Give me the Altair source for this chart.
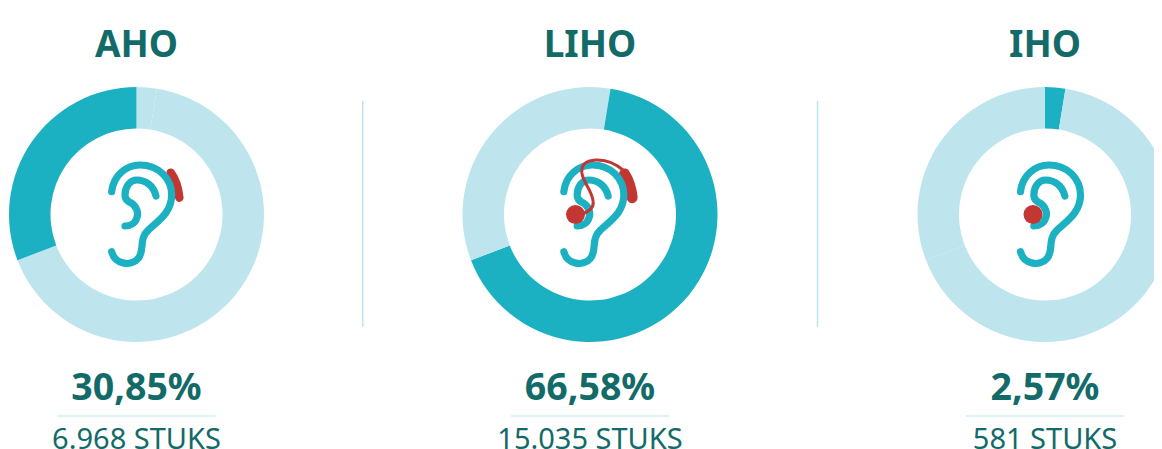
import math
import re
import altair as alt
import pandas as pd

names = ["AHO", "LIHO", "IHO"]
shares = [30.85, 66.58, 2.57]
percent_labels = ["30,85%", "66,58%", "2,57%"]
unit_labels = ["6.968 STUKS", "15.035 STUKS", "581 STUKS"]
ring_order = [2, 1, 0]  # clockwise from 12 o'clock
panels = [0, 1, 2]
separators = [0.4989, 1.5]

TEAL = "#1CB1C2"
LIGHT = "#BEE5EE"
RED = "#C23732"
DARK = "#126B68"
FONT = "Noto Sans"

x_scale = alt.Scale(domain=[0, 1, 2], range=[128.5, 582, 1037], nice=False, zero=False)
X = alt.X("panel:Q", scale=x_scale, axis=None)
theta_scale = alt.Scale(domain=[0, 100], range=[0, 2 * math.pi])

# ---- rings: one arc layer per segment
ring_layers = []
for p in panels:
    cum = 0.0
    for i in ring_order:
        row = pd.DataFrame({"panel": [p], "segment": [names[i]], "start": [cum], "end": [cum + shares[i]]})
        cum += shares[i]
        ring_layers.append(
            alt.Chart(row)
            .mark_arc(radius=127.5, radius2=86, color=TEAL if i == p else LIGHT)
            .encode(
                x=X,
                y=alt.value(206.5),
                theta=alt.Theta("start:Q", stack=False, scale=theta_scale),
                theta2="end:Q",
            )
        )


def shift(path, dx, dy):
    """Move a path drawn in 3x crop units so its origin is the ring centre."""
    nums = iter([dx, dy] * 100)
    return re.sub(r"-?\d+\.?\d*", lambda m: f"{float(m.group()) - next(nums):.1f}", path)


EAR_OUTER = "M65 125 C70 75 110 45 150 45 C205 45 245 85 245 135 C245 190 200 215 175 240 C145 268 165 300 145 325 C125 350 75 345 65 305"
EAR_INNER = "M198 138 C190 105 165 90 140 90 C120 90 105 110 105 135 C105 150 115 155 125 160 C140 170 147 190 140 205 C135 220 120 228 105 228"
AID_SMALL = "M242 68 C255 85 265 115 268 143"
AID_LARGE = "M252 72 C263 89 272 115 275 143"
TUBE = "M250 62 C225 40 195 28 165 30 C135 32 122 45 124 68 C128 100 155 120 158 155 C160 172 145 185 125 192"

cx = 139.5
cy = 193.5
parts = [
    {"panel": 0, "path": shift(AID_SMALL, cx, cy), "w": 8.5, "c": RED},
    {"panel": 1, "path": shift(AID_LARGE, cx + 9, cy), "w": 11, "c": RED},
]
for p, off in zip(panels, [0, 4, -1]):
    parts.append({"panel": p, "path": shift(EAR_OUTER, cx + off, cy), "w": 7.2, "c": TEAL})
    parts.append({"panel": p, "path": shift(EAR_INNER, cx + off, cy), "w": 7.2, "c": TEAL})
parts.append({"panel": 1, "path": shift(TUBE, cx + 9, cy), "w": 3, "c": RED})

icon_layers = [
    alt.Chart(pd.DataFrame([part]))
    .mark_point(size=4 / 9, opacity=1, strokeCap="round", strokeJoin="round", filled=False,
                shape=part["path"], stroke=part["c"], strokeWidth=part["w"])
    .encode(x=X, y=alt.value(206.5))
    for part in parts
]

dot_layers = [
    alt.Chart(pd.DataFrame({"panel": [p]}))
    .mark_circle(size=360, opacity=1, color=RED, xOffset=dx)
    .encode(x=X, y=alt.value(206.5))
    for p, dx in [(1, -14.5), (2, -12)]
]

labels = pd.DataFrame({"panel": panels, "name": names, "pct": percent_labels, "unit": unit_labels})
base = alt.Chart(labels)
title_layer = base.mark_text(font=FONT, fontSize=37, fontWeight="bold", color=DARK, baseline="alphabetic").encode(
    x=X, y=alt.value(48.5), text="name:N")
pct_layer = base.mark_text(font=FONT, fontSize=37.5, fontWeight="bold", color=DARK, baseline="alphabetic").encode(
    x=X, y=alt.value(392), text="pct:N")
unit_layer = base.mark_text(font=FONT, fontSize=29, color=DARK, baseline="alphabetic").encode(
    x=X, y=alt.value(441), text="unit:N")
tick_layer = base.mark_tick(orient="horizontal", size=158, thickness=1, color=LIGHT, opacity=1).encode(
    x=X, y=alt.value(408))

sep = pd.DataFrame({"panel": separators})
sep_layer = alt.Chart(sep).mark_rule(color=LIGHT, strokeWidth=1.5).encode(
    x=X, y=alt.value(93), y2=alt.value(319))

chart = (
    alt.layer(*ring_layers, sep_layer, *icon_layers, *dot_layers, tick_layer, title_layer, pct_layer, unit_layer)
    .properties(width=1146, height=441, padding=0, autosize=alt.AutoSizeParams(type="none"))
    .configure(background="white", view=alt.ViewConfig(stroke=None))
)
chart.save("out.html", embed_options={"renderer": "svg", "actions": False})
